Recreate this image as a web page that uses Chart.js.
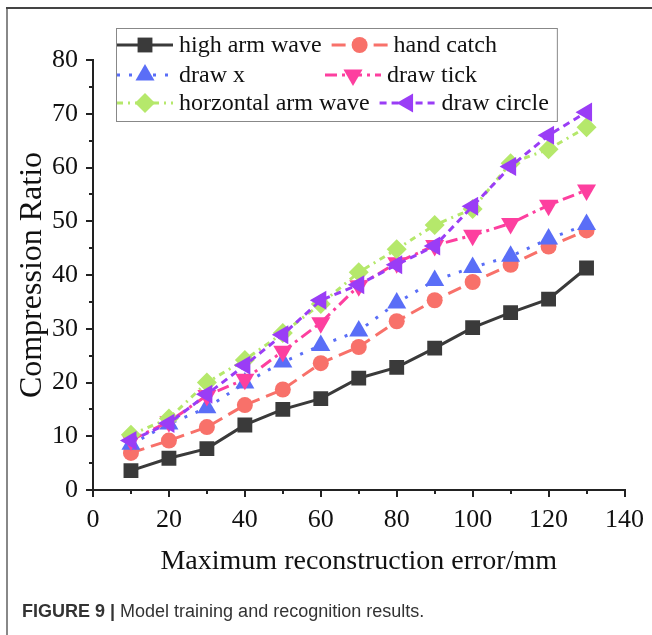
<!DOCTYPE html>
<html>
<head>
<meta charset="utf-8">
<script src="https://cdn.jsdelivr.net/npm/chart.js@4"></script>
<style>
  html, body { margin: 0; padding: 0; background: #fff; }
  #wrap { position: relative; width: 652px; height: 635px; }
</style>
</head>
<body>
<div id="wrap"><canvas id="myChart" width="652" height="635"></canvas></div>
<script>
// x values (Maximum reconstruction error, mm)
var errors = [10, 20, 30, 40, 50, 60, 70, 80, 90, 100, 110, 120, 130]

var highArmWave = [3.6, 5.9, 7.7, 12.1, 15.0, 17.0, 20.8, 22.8, 26.4, 30.2, 33.0, 35.5, 41.3]
var handCatch = [6.9, 9.2, 11.7, 15.8, 18.7, 23.6, 26.6, 31.4, 35.3, 38.7, 41.9, 45.3, 48.3]
var drawX = [8.5, 12.3, 15.3, 19.9, 23.8, 26.9, 29.6, 34.8, 39.0, 41.4, 43.5, 46.7, 49.4]
var drawTick = [9.3, 12.7, 17.6, 20.6, 25.8, 31.1, 38.0, 42.3, 45.5, 47.4, 49.6, 53.0, 55.8]
var horzontalArmWave = [10.3, 13.3, 20.0, 24.2, 29.2, 34.6, 40.5, 44.8, 49.3, 52.3, 60.8, 63.4, 67.5]
var drawCircle = [9.2, 12.4, 17.8, 23.2, 28.9, 35.3, 38.2, 41.9, 45.4, 52.8, 60.2, 66.0, 70.3]

var xMinor = [10, 30, 50, 70, 90, 110, 130]
var yMinor = [5, 15, 25, 35, 45, 55, 65, 75]

function pts(values) {
  return values.map(function (v, i) { return { x: errors[i], y: v } })
}

function series(label, values, color, style, rotation, radius, dash, order) {
  return {
    label: label,
    data: pts(values),
    borderColor: color,
    backgroundColor: color,
    borderWidth: 3,
    borderDash: dash,
    pointStyle: style,
    rotation: rotation,
    pointRadius: radius,
    pointHoverRadius: radius,
    pointBorderWidth: 0,
    tension: 0,
    order: order
  }
}

var serif = '"Liberation Serif", "Times New Roman", serif'

var framePlugin = {
  id: 'frame',
  beforeDraw: function (chart) {
    var ctx = chart.ctx
    ctx.save()
    ctx.fillStyle = '#fff'
    ctx.fillRect(0, 0, chart.width, chart.height)
    ctx.restore()
  },
  afterDraw: function (chart) {
    var ctx = chart.ctx
    var area = chart.chartArea
    var xs = chart.scales.x
    var ys = chart.scales.y
    ctx.save()
    // minor ticks
    ctx.strokeStyle = '#222'
    ctx.lineWidth = 2
    ctx.beginPath()
    xMinor.forEach(function (v) {
      var px = Math.round(xs.getPixelForValue(v))
      ctx.moveTo(px, area.bottom)
      ctx.lineTo(px, area.bottom + 4)
    })
    yMinor.forEach(function (v) {
      var py = Math.round(ys.getPixelForValue(v))
      ctx.moveTo(area.left, py)
      ctx.lineTo(area.left - 4, py)
    })
    ctx.stroke()

    // figure frame
    ctx.lineWidth = 2
    ctx.strokeStyle = '#888'
    ctx.beginPath()
    ctx.moveTo(7, 635)
    ctx.lineTo(7, 8)
    ctx.stroke()
    ctx.strokeStyle = '#444'
    ctx.beginPath()
    ctx.moveTo(6, 8)
    ctx.lineTo(652, 8)
    ctx.stroke()

    // caption
    ctx.fillStyle = '#333'
    ctx.textBaseline = 'middle'
    ctx.font = 'bold 18px "Liberation Sans", Arial, sans-serif'
    var lead = 'FIGURE 9 | '
    ctx.fillText(lead, 22, 612)
    var w = ctx.measureText(lead).width
    ctx.font = '18px "Liberation Sans", Arial, sans-serif'
    ctx.fillText('Model training and recognition results.', 22 + w, 612)

    // boxed legend
    var ds = chart.data.datasets
    var rows = [[0, 1], [2, 3], [4, 5]]
    var rowY = [45, 75, 103]
    ctx.font = '24px ' + serif
    var items = []
    var right = 0
    rows.forEach(function (row, r) {
      var x = 117
      row.forEach(function (i, k) {
        if (k === 1) x = Math.max(325, x + 10)
        items.push({ i: i, x: x, y: rowY[r] })
        x = x + 56 + 6 + ctx.measureText(ds[i].label).width
      })
      right = Math.max(right, x)
    })
    ctx.fillStyle = '#fff'
    ctx.fillRect(116, 28, right + 8 - 116, 93)
    ctx.strokeStyle = '#888'
    ctx.lineWidth = 1
    ctx.setLineDash([])
    ctx.strokeRect(116.5, 28.5, right + 8 - 116, 93)
    items.forEach(function (it) {
      var d = ds[it.i]
      ctx.strokeStyle = d.borderColor
      ctx.lineWidth = 3
      ctx.setLineDash(d.borderDash)
      ctx.beginPath()
      ctx.moveTo(it.x, it.y)
      ctx.lineTo(it.x + 56, it.y)
      ctx.stroke()
      ctx.setLineDash([])
      ctx.fillStyle = d.borderColor
      Chart.helpers.drawPoint(ctx, {
        pointStyle: d.pointStyle,
        rotation: d.rotation,
        radius: d.pointRadius,
        borderWidth: 0
      }, it.x + 28, it.y)
      ctx.fillStyle = '#111'
      ctx.textBaseline = 'middle'
      ctx.fillText(d.label, it.x + 62, it.y + 1)
    })
    ctx.restore()
  }
}

var ctx = document.getElementById('myChart').getContext('2d')
var myChart = new Chart(ctx, {
  type: 'line',
  data: {
    datasets: [
      series('high arm wave', highArmWave, '#3a3a3a', 'rect', 0, 10.5, [], 6),
      series('hand catch', handCatch, '#f8716a', 'circle', 0, 8, [14, 7], 5),
      series('draw x', drawX, '#5a6ef7', 'triangle', 0, 11, [3, 9], 4),
      series('draw tick', drawTick, '#fd3f9f', 'triangle', 180, 11, [12, 5, 3, 5], 3),
      series('horzontal arm wave', horzontalArmWave, '#b5e86b', 'rectRot', 0, 10, [6, 5, 2, 5], 2),
      series('draw circle', drawCircle, '#9a3df6', 'triangle', -90, 11, [7, 5], 1)
    ]
  },
  options: {
    responsive: false,
    animation: false,
    layout: { padding: { top: 60, right: 24, left: 0, bottom: 0 } },
    plugins: {
      legend: { display: false },
      tooltip: { enabled: false }
    },
    scales: {
      x: {
        type: 'linear',
        min: 0,
        max: 140,
        afterFit: function (s) { s.height = 145 },
        border: { color: '#222', width: 2 },
        grid: { drawOnChartArea: false, tickLength: 7, color: '#222', lineWidth: 2 },
        ticks: { stepSize: 20, padding: 8, color: '#111', font: { family: serif, size: 26 } },
        title: {
          display: true,
          text: 'Maximum reconstruction error/mm',
          color: '#111',
          font: { family: serif, size: 28 },
          padding: { top: 0, bottom: 57 }
        }
      },
      y: {
        min: 0,
        max: 80,
        afterFit: function (s) { s.width = 93 },
        border: { color: '#222', width: 2 },
        grid: { drawOnChartArea: false, tickLength: 7, color: '#222', lineWidth: 2 },
        ticks: { stepSize: 10, padding: 8, color: '#111', font: { family: serif, size: 26 } },
        title: {
          display: true,
          text: 'Compression Ratio',
          color: '#111',
          font: { family: serif, size: 32 },
          padding: { top: 13, bottom: 0 }
        }
      }
    }
  },
  plugins: [framePlugin]
})
</script>
</body>
</html>
